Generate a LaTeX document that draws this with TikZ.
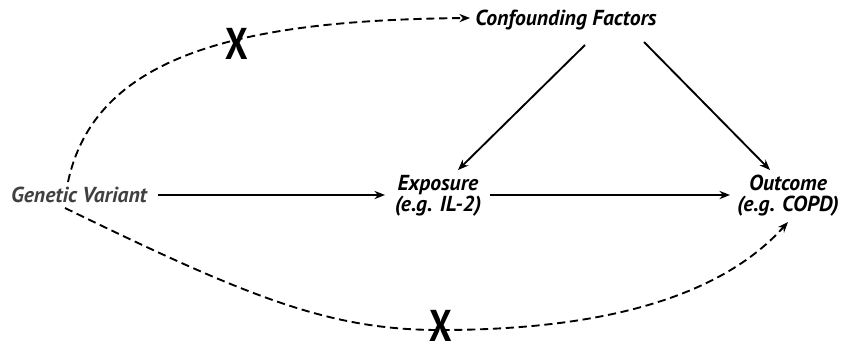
\documentclass[tikz,border=0pt]{standalone}
\usepackage{fontspec}
\setmainfont{PT Sans}
\usetikzlibrary{arrows.meta}
\definecolor{gvgray}{HTML}{404040}
\begin{document}
\begin{tikzpicture}[x=0.03cm,y=-0.03cm,
  lbl/.style={font=\fontsize{18.5}{18}\selectfont\bfseries\itshape, align=center, inner sep=1pt},
  solidarrow/.style={line width=1.6pt, -{Stealth[length=9pt,width=7pt]}},
  dasharrow/.style={line width=1.6pt, dash pattern=on 7pt off 4pt, -{Stealth[length=9pt,width=7pt]}},
  xmark/.style={font=\fontsize{38}{38}\selectfont\bfseries, inner sep=0pt}]
\useasboundingbox (0,0) rectangle (841,352);
\node[lbl, text=gvgray] (gv) at (79,195) {Genetic Variant};
\node[lbl] (ex) at (438,196) {Exposure\\(e.g. IL-2)};
\node[lbl] (out) at (788,196) {Outcome\\(e.g. COPD)};
\node[lbl] (cf) at (566,20) {Confounding Factors};
\coordinate (gvtop) at (68,182);
\coordinate (gvbot) at (65,208);
\coordinate (cftip) at (470,18);
\coordinate (bmid) at (440,330);
\coordinate (outtip) at (788,222);
\coordinate (cfl) at (585,45);
\coordinate (cfr) at (644,42);
\coordinate (exttop) at (458,170);
\coordinate (outtop) at (770,170);
\coordinate (gvr) at (158,195);
\coordinate (exl) at (385,195);
\coordinate (exr) at (490,195);
\coordinate (outl) at (730,195);
\draw[solidarrow] (gvr) -- (exl);
\draw[solidarrow] (exr) -- (outl);
\draw[solidarrow] (cfl) -- (exttop);
\draw[solidarrow] (cfr) -- (outtop);
\draw[dasharrow] (gvtop) .. controls (95,55) and (240,20) .. (cftip);
\draw[dasharrow] (gvbot) .. controls (250,298) and (330,330) .. (bmid) .. controls (600,330) and (720,298) .. (outtip);
\node[xmark] (x1) at (237,44) {\scalebox{0.8}[1]{X}};
\node[xmark] (x2) at (441,326) {\scalebox{0.8}[1]{X}};
\end{tikzpicture}
\end{document}
